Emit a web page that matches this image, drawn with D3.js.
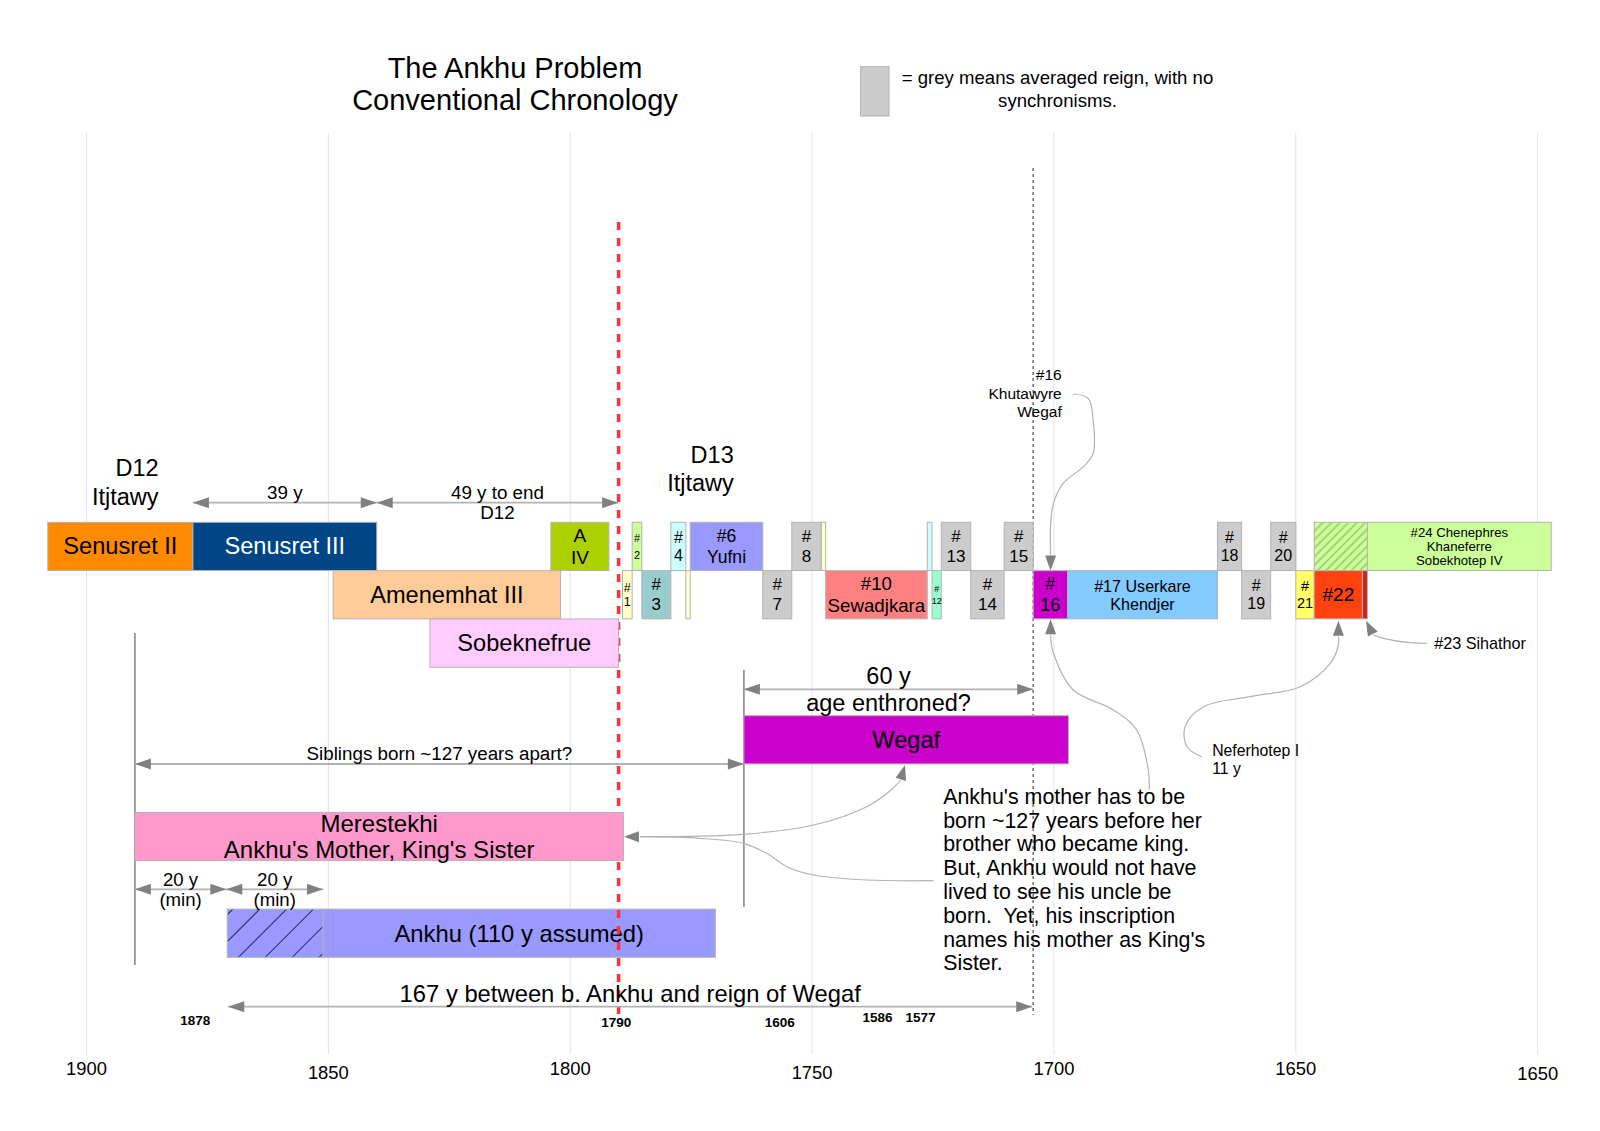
<!DOCTYPE html>
<html><head><meta charset="utf-8">
<script src="https://cdn.jsdelivr.net/npm/d3@7"></script>
<style>
body{margin:0;background:#fff}
svg{display:block}
text{font-family:"Liberation Sans",Arial,sans-serif;white-space:pre}
</style>
</head><body>
<svg id="c" width="1600" height="1131"></svg>
<script>
// ---------------- DATA ----------------
const tickYears  = [1900, 1850, 1800, 1750, 1700, 1650, 1600];
const tickLabels = ["1900", "1850", "1800", "1750", "1700", "1650", "1650"];

const reignNames = ["Senusret II","Senusret III","Amenemhat III","Amenemhat IV","Sobeknefrue",
  "#1","#2","#3","#4","#5","#6","#7","#8","#9","#10","#11","#12","#13","#14","#15","#16","#17",
  "#18","#19","#20","#21","#22","#23","#24a","#24","Wegaf","Merestekhi","Ankhu a","Ankhu"];
const reignText = ["Senusret II","Senusret III","Amenemhat III","A|IV","Sobeknefrue",
  "#|1","#|2","#|3","#|4","","#6|Yufni","#|7","#|8","","#10|Sewadjkara","","#|12","#|13","#|14","#|15","#|16",
  "#17 Userkare|Khendjer","#|18","#|19","#|20","#|21","#22","","","#24 Chenephres|Khaneferre|Sobekhotep IV",
  "Wegaf","Merestekhi|Ankhu's Mother, King's Sister","","Ankhu (110 y assumed)"];
const reignStart = [1908,1878,1849,1804,1829,
  1789.2,1787.2,1785.2,1779.2,1776.1,1775.2,1760.2,1754.2,1748.1,1747.2,1726.2,1725.2,1723.3,1717.2,1710.3,1704.3,
  1697.2,1666.2,1661.2,1655.2,1650,1646.2,1636.2,1646.2,1635.2,1764.1,1890,1870.9,1851.1];
const reignEnd = [1878,1840,1802,1792,1790,
  1787.2,1785.2,1779.2,1776.1,1775.2,1760.2,1754.2,1748.1,1747.2,1726.2,1725.2,1723.3,1717.2,1710.3,1704.3,1697.2,
  1666.2,1661.2,1655.2,1650,1646.2,1636.2,1635.2,1635.2,1597.2,1697.0,1789,1851.1,1770];
const reignLane = [0,0,1,0,2,
  1,0,1,0,1,0,1,0,0,1,0,1,0,1,0,1,
  1,0,1,0,1,1,1,0,0,4,6,8,8];

const spanLabels = ["39 y","49 y to end|D12","Siblings born ~127 years apart?","60 y|age enthroned?",
  "20 y|(min)","20 y|(min)","167 y between b. Ankhu and reign of Wegaf"];
const spanFrom = [1878, 1840, 1890, 1764.1, 1890, 1871.1, 1870.7];
const spanTo   = [1840, 1790.1, 1764.1, 1704.3, 1871.1, 1851.1, 1704.5];

const yearNotes   = ["1878","1790","1606","1586","1577"];
const yearNotesAt = [1877.5, 1790.5, 1756.7, 1736.5, 1727.6];

const noteLines = ["Ankhu's mother has to be","born ~127 years before her","brother who became king.",
  "But, Ankhu would not have","lived to see his uncle be","born.  Yet, his inscription",
  "names his mother as King's","Sister."];

const d12Year = 1890, wegafBirth = 1764.1, endD12 = 1790, wegafReign = 1704.3;

// ---------------- STYLES ----------------
const colors = {"Senusret II":"#ff8a00","Senusret III":"#004586","Amenemhat III":"#ffcc99","Amenemhat IV":"#add000",
  "Sobeknefrue":"#ffccff","#1":"#ffffcc","#2":"#ccff99","#3":"#99cccc","#4":"#ccffff","#5":"#ffffcc","#6":"#9999ff",
  "#7":"#cccccc","#8":"#cccccc","#9":"#ffffcc","#10":"#ff8080","#11":"#ccffff","#12":"#99ffcc","#13":"#cccccc",
  "#14":"#cccccc","#15":"#cccccc","#16":"#cc00cc","#17":"#83caff","#18":"#cccccc","#19":"#cccccc","#20":"#cccccc",
  "#21":"#ffff66","#22":"#ff420e","#23":"#c9211e","#24a":"url(#hatchG)","#24":"#ccff99","Wegaf":"#cc00cc",
  "Merestekhi":"#ff99cc","Ankhu a":"url(#hatchB)","Ankhu":"#9999ff"};
const fontSize = {"Senusret II":23.6,"Senusret III":23.6,"Amenemhat III":23.6,"Amenemhat IV":19,"Sobeknefrue":23.6,
  "#1":12.5,"#2":11,"#3":17,"#4":16,"#6":17.6,"#7":17,"#8":17,"#10":18.7,"#12":9,"#13":17,"#14":17,"#15":17,
  "#16":18,"#17":16.1,"#18":16,"#19":16,"#20":16,"#21":14.5,"#22":19,"#24":13.2,"Wegaf":23.6,"Merestekhi":24,"Ankhu":23.8};
const lineH = {"Merestekhi":26.6,"#24":14.4,"#17":18.3,"#1":14,"#2":17,"#12":12};
const spanY = [502.7, 502.7, 764, 689.3, 889.3, 889.3, 1006.7];
const spanTextDy = [[-10],[-10,10],[-10.7],[-13.3,14],[-10,10],[-10,10],[-13.4]];
const spanFs = [18.8,18.8,18.8,23.5,18.6,18.6,23.8];

// ---------------- SCALES ----------------
const svg = d3.select("#c");
const x = d3.scaleLinear().domain([1900,1600]).range([86.5,1537.7]);
const yLane = d3.scaleLinear().domain([0,8]).range([522.3,909.1]);
const bandH = 48.2;
const GREY_LINE = "#b3b3b3", HEAD = "#808080";

const defs = svg.append("defs");
function hatch(id, bg, fg, sp){
  const p = defs.append("pattern").attr("id",id).attr("patternUnits","userSpaceOnUse")
    .attr("width",sp).attr("height",sp).attr("patternTransform","rotate(45)");
  p.append("rect").attr("width",sp).attr("height",sp).attr("fill",bg);
  p.append("line").attr("x1",sp/2).attr("x2",sp/2).attr("y1",0).attr("y2",sp).attr("stroke",fg).attr("stroke-width",1);
}
hatch("hatchG","#ccff99","#7fa855",6);
hatch("hatchB","#9999ff","#222266",19);

function lines(g, str, cx, cy, fs, lh, opts={}){
  const arr = str.split("|");
  const n = arr.length;
  arr.forEach((s,i)=>{
    g.append("text").attr("x",cx).attr("y",cy + (i-(n-1)/2)*lh)
      .attr("text-anchor",opts.anchor||"middle").attr("dominant-baseline","central")
      .attr("font-size",fs).attr("font-weight",opts.weight||"normal")
      .attr("fill",opts.fill||"#000").text(s);
  });
}
function head(g, tx, ty, bx, by, len=16, w=11){
  const dx = tx-bx, dy = ty-by, L = Math.hypot(dx,dy)||1;
  const ux = dx/L, uy = dy/L;
  const b0x = tx-ux*len, b0y = ty-uy*len;
  const px = -uy*w/2, py = ux*w/2;
  g.append("path").attr("d",`M${tx},${ty}L${b0x+px},${b0y+py}L${b0x-px},${b0y-py}Z`).attr("fill",HEAD);
}

// ---------------- GRID ----------------
const grid = svg.append("g");
grid.selectAll("line").data(tickYears).join("line")
  .attr("x1",d=>x(d)).attr("x2",d=>x(d)).attr("y1",133).attr("y2",1054)
  .attr("stroke","#e3e3e3").attr("stroke-width",1);
const tickY = [1068,1072,1068,1072,1068,1068,1073];
svg.append("g").selectAll("text").data(tickYears).join("text")
  .attr("x",d=>x(d)).attr("y",(d,i)=>tickY[i]).attr("text-anchor","middle").attr("dominant-baseline","central")
  .attr("font-size",18.4).text((d,i)=>tickLabels[i]);

// ---------------- TITLE & LEGEND ----------------
lines(svg, "The Ankhu Problem|Conventional Chronology", 515, 84.2, 29, 31.7);
svg.append("rect").attr("x",860.6).attr("y",66.7).attr("width",28.4).attr("height",49.3)
  .attr("fill","#cccccc").attr("stroke","#b3b3b3");
lines(svg, "= grey means averaged reign, with no|synchronisms.", 1057.5, 89, 18.6, 23.4);

// dynasty labels
lines(svg, "D12|Itjtawy", x(1885.1), 482.3, 23.5, 28.7, {anchor:"end"});
lines(svg, "D13|Itjtawy", x(1766.2), 468.8, 23.5, 27.7, {anchor:"end"});

// ---------------- GUIDE LINES ----------------
svg.append("line").attr("x1",x(wegafReign)).attr("x2",x(wegafReign)).attr("y1",168).attr("y2",1015)
  .attr("stroke","#777").attr("stroke-width",1.6).attr("stroke-dasharray","3,3");
svg.append("line").attr("x1",x(d12Year)).attr("x2",x(d12Year)).attr("y1",633).attr("y2",965)
  .attr("stroke","#888").attr("stroke-width",1.6);
svg.append("line").attr("x1",x(wegafBirth)).attr("x2",x(wegafBirth)).attr("y1",670).attr("y2",907)
  .attr("stroke","#888").attr("stroke-width",1.6);

// ---------------- BARS ----------------
const idx = d3.range(reignNames.length);
const late = ["Ankhu a","Ankhu"];
function drawBars(filterFn){
  const g = svg.append("g");
  idx.filter(filterFn).forEach(i=>{
    const nm = reignNames[i];
    const x0 = x(reignStart[i]), x1 = x(reignEnd[i]);
    const y0 = yLane(reignLane[i]);
    g.append("rect").attr("x",x0).attr("y",y0).attr("width",x1-x0).attr("height",bandH)
      .attr("fill",colors[nm]).attr("stroke","#b3b3b3").attr("stroke-width",1);
    if(reignText[i]){
      const fs = fontSize[nm];
      lines(g, reignText[i], (x0+x1)/2, y0+bandH/2, fs, lineH[nm]||fs*1.15,
        {fill: nm==="Senusret III" ? "#fff" : "#000"});
    }
  });
}
drawBars(i=>late.includes(reignNames[i]));

// red dashed line: end of D12
svg.append("line").attr("x1",x(endD12)).attr("x2",x(endD12)).attr("y1",222).attr("y2",1020)
  .attr("stroke","#ff3333").attr("stroke-width",3.5).attr("stroke-dasharray","8,8");

drawBars(i=>!late.includes(reignNames[i]));

// ---------------- SPAN ARROWS ----------------
const spans = svg.append("g");
spanLabels.forEach((lab,i)=>{
  const a = x(spanFrom[i]), b = x(spanTo[i]), y = spanY[i];
  spans.append("line").attr("x1",a).attr("x2",b).attr("y1",y).attr("y2",y)
    .attr("stroke",GREY_LINE).attr("stroke-width",1.8);
  head(spans, a, y, a+10, y);
  head(spans, b, y, b-10, y);
  const cx = (a+b)/2;
  lab.split("|").forEach((s,k)=>{
    spans.append("text").attr("x",cx).attr("y",y+spanTextDy[i][k]).attr("text-anchor","middle")
      .attr("dominant-baseline","central").attr("font-size",spanFs[i]).text(s);
  });
});

// small year notes
svg.append("g").selectAll("text").data(yearNotes).join("text")
  .attr("x",(d,i)=>x(yearNotesAt[i])).attr("y",(d,i)=>[1020,1022.7,1022.7,1017.7,1017.7][i])
  .attr("text-anchor","middle").attr("dominant-baseline","central")
  .attr("font-size",13.5).attr("font-weight","bold").text(d=>d);

// ---------------- ANNOTATIONS ----------------
const ann = svg.append("g");
noteLines.forEach((s,i)=>{
  ann.append("text").attr("x",x(1722.9)).attr("y",796.7+i*23.8).attr("dominant-baseline","central")
    .attr("font-size",21.4).text(s);
});
lines(ann, "#16|Khutawyre|Wegaf", x(1698.4), 393.3, 15.5, 18.4, {anchor:"end"});
lines(ann, "Neferhotep I|11 y", x(1667.3), 759.2, 15.8, 18.3, {anchor:"start"});
lines(ann, "#23 Sihathor", x(1621.4), 642.7, 16.2, 18, {anchor:"start"});

// connector curves: [year, y] waypoints, last = arrow base, tip separate
const curve = d3.line().x(d=>x(d[0])).y(d=>d[1]).curve(d3.curveCatmullRom.alpha(0.5));
const connectors = [
  {pts:[[1785.6,836.7],[1764.2,834.3],[1749.7,825],[1738.7,806.7],[1733.2,788],[1731.7,780]], tip:[1730.8,765]},
  {pts:[[1724.9,880.7],[1738.7,880],[1749.7,875],[1755.2,866.7],[1759.4,853.3],[1764.2,843.3],[1773.2,838.3],[1785.6,836.7]], tip:[1788.9,836.7]},
  {pts:[[1696.0,394],[1692.9,398.5],[1691.9,420],[1691.9,453.3],[1693.9,466.7],[1698.1,483.3],[1700.1,503.3],[1700.7,526.7],[1700.7,555]], tip:[1700.7,570.5]},
  {pts:[[1680.3,790],[1680.5,770],[1682.9,730],[1687.7,710],[1696.0,690],[1700.1,653.3],[1700.7,635]], tip:[1700.7,619.3]},
  {pts:[[1669.5,756.7],[1672.5,746.7],[1672.9,726.7],[1669.1,706.7],[1659.5,696.7],[1649.1,686.7],[1642.9,663.3],[1641.2,645],[1641.2,636.7]], tip:[1641.2,620.7]},
  {pts:[[1622.9,643.3],[1626.4,642.7],[1631.9,638.3],[1634.0,635]], tip:[1635.5,620.7]}
];
connectors.forEach(c=>{
  ann.append("path").attr("d",curve(c.pts)).attr("fill","none").attr("stroke",GREY_LINE).attr("stroke-width",1.2);
  const b = c.pts[c.pts.length-1];
  head(ann, x(c.tip[0]), c.tip[1], x(b[0]), b[1], 15, 11);
});
</script>
</body></html>
